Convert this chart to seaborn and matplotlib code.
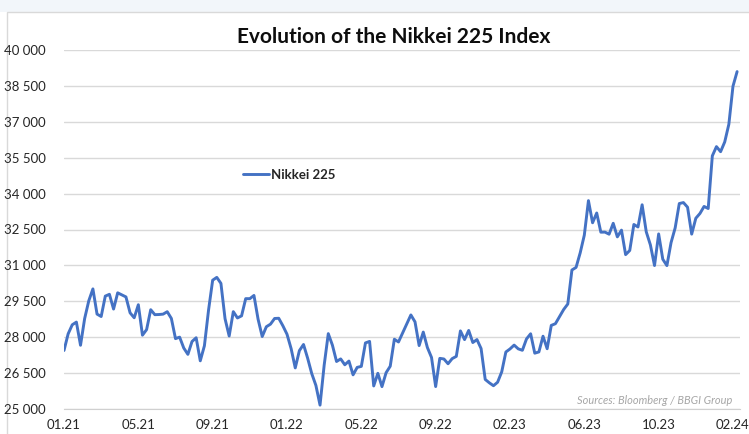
import pandas as pd
import matplotlib.pyplot as plt
import seaborn as sns
from matplotlib.patches import Rectangle

# weekly closes
nikkei_2021 = [27444, 28139, 28519, 28631, 27663, 28779, 29520, 30018, 28966, 28864,
               29717, 29792, 29176, 29854, 29768, 29683, 29020, 28812, 29357, 28084,
               28317, 29149, 28941, 28948, 28964, 29066, 28783, 27940, 28003, 27548,
               27283, 27820, 27977, 27013, 27641, 29128, 30382, 30500, 30249, 28771,
               28049, 29068, 28804, 28892, 29611, 29610, 29745, 28751, 28029, 28437,
               28545, 28782, 28791]
nikkei_2022 = [28478, 28124, 27522, 26717, 27439, 27696, 27122, 26476, 25985, 25162,
               26827, 28149, 27666, 26985, 27093, 26848, 27003, 26427, 26739, 26781,
               27761, 27824, 25963, 26491, 25935, 26517, 26788, 27915, 27801, 28176,
               28547, 28930, 28641, 27650, 28214, 27567, 27153, 25937, 27116, 27090,
               26891, 27105, 27199, 28263, 27899, 28283, 27777, 27901, 27527, 26235,
               26094]
nikkei_2023 = [25973, 26119, 26553, 27382, 27509, 27670, 27513, 27453, 27927, 28143,
               27333, 27385, 28041, 27518, 28493, 28564, 28856, 29157, 29388, 30808,
               30916, 31524, 32265, 33706, 32781, 33189, 32388, 32391, 32304, 32759,
               32192, 32473, 31450, 31624, 32710, 32606, 33533, 32402, 31857, 30994,
               32315, 31259, 30991, 31949, 32568, 33585, 33625, 33431, 32307, 32970,
               33169, 33464]
nikkei_2024 = [33377, 35577, 35963, 35751, 36158, 36897, 38487, 39098]

tick_labels = ["01.21", "05.21", "09.21", "01.22", "05.22", "09.22",
               "02.23", "06.23", "10.23", "02.24"]
y_ticks = list(range(25000, 40001, 1500))

values = nikkei_2021 + nikkei_2022 + nikkei_2023 + nikkei_2024
df = pd.DataFrame({"week": range(len(values)), "Nikkei 225": values})

sns.set_style("white")
plt.rcParams['font.family'] = ['Lato', 'DejaVu Sans']

W, H = 749, 434
fig = plt.figure(figsize=(W / 100, H / 100), dpi=100)

# chart frame + light page strip on top
fig.patches.append(Rectangle((0, 1 - 12 / H), 1, 12 / H, transform=fig.transFigure,
                             facecolor="#F2F6FA", edgecolor="none", zorder=-10))
fig.patches.append(Rectangle((7 / W, -0.1), 1.1, 1 - 12 / H + 0.1, transform=fig.transFigure,
                             facecolor="white", edgecolor="#D9D9D9", lw=1, zorder=-10))

ax = fig.add_axes([64 / W, 1 - 409 / H, (740 - 64) / W, (409 - 50) / H])
ax.set_facecolor("none")

sns.lineplot(data=df, x="week", y="Nikkei 225", ax=ax, color="#4472C4",
             linewidth=2.1, label="Nikkei 225")

ax.set_xlim(0, 163.7)
ax.set_ylim(25000, 40000)
ax.set_yticks(y_ticks)
ax.set_yticklabels([f"{v:,}".replace(",", " ") for v in y_ticks])
ax.set_xticks(range(0, 18 * len(tick_labels), 18))
ax.set_xticklabels(tick_labels)
ax.set_xlabel("")
ax.set_ylabel("")

ax.grid(axis="y", color="#D9D9D9", linewidth=1)
ax.grid(axis="x", visible=False)
for s in ["left", "right", "top"]:
    ax.spines[s].set_visible(False)
ax.spines["bottom"].set_color("#D0D0D0")
ax.tick_params(axis="y", length=0, pad=13, labelsize=9.5, labelcolor="#262626")
ax.tick_params(axis="x", length=4, width=1, color="#BFBFBF", pad=3,
               labelsize=9.5, labelcolor="#262626")

leg = ax.legend(loc="center left", bbox_to_anchor=((243 - 64) / 676, 0.652),
                frameon=False, borderpad=0, borderaxespad=0, handlelength=2.0,
                handletextpad=0.15, prop={"weight": "bold", "size": 9.5})

fig.text(394 / W, 1 - 37 / H, "Evolution of the Nikkei 225 Index", ha="center",
         va="center", fontsize=15, fontweight="bold", color="#0D0D0D")
fig.text(732 / W, 1 - 401 / H, "Sources: Bloomberg / BBGI Group", ha="right",
         va="center", fontsize=7.9, style="italic", color="#A6A6A6")

plt.savefig("out.png", dpi=100)
